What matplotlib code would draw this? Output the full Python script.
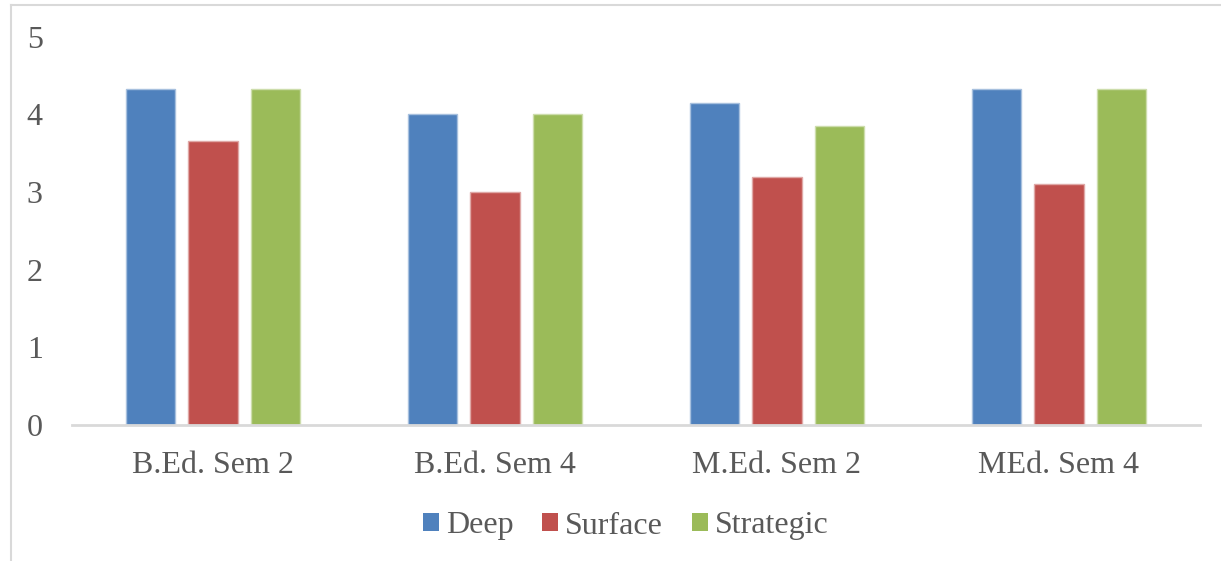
import numpy as np
import matplotlib.pyplot as plt
from matplotlib.patches import Patch
from matplotlib.lines import Line2D

groups = ["B.Ed. Sem 2", "B.Ed. Sem 4", "M.Ed. Sem 2", "MEd. Sem 4"]
series = ["Deep", "Surface", "Strategic"]
deep = [4.33, 4.00, 4.14, 4.33]
surface = [3.66, 3.00, 3.19, 3.10]
strategic = [4.33, 4.00, 3.85, 4.33]

colors = ["#4F81BD", "#C0504D", "#9BBB59"]
edges = ["#A7C0DE", "#DFA8A6", "#CDDDAC"]
txt = "#595959"

plt.rcParams['font.family'] = ['Liberation Serif', 'DejaVu Serif']

W, H = 1221, 561
fig = plt.figure(figsize=(W / 100, H / 100), dpi=100)

# frame around the chart area
fig.add_artist(Line2D([11 / W, 11 / W], [0, 1 - 5 / H], color="#D9D9D9", lw=1.5))
fig.add_artist(Line2D([11 / W, 1], [1 - 5 / H, 1 - 5 / H], color="#D9D9D9", lw=1.5))

ax = fig.add_axes([72 / W, 1 - 425 / H, (1200 - 72) / W, (425 - 36.5) / H])

x = np.arange(len(groups))
bw = 0.177
step = 0.2216
for i, (vals, c, e) in enumerate(zip([deep, surface, strategic], colors, edges)):
    ax.bar(x + (i - 1) * step, vals, width=bw, color=c, edgecolor=e, linewidth=1)

ax.set_xlim(-0.5, len(groups) - 0.5)
ax.set_ylim(0, 5)
ax.set_yticks(range(6))
ax.set_xticks(x)
ax.set_xticklabels(groups)
ax.tick_params(axis='both', length=0, labelsize=23, labelcolor=txt)
ax.tick_params(axis='x', pad=19)
ax.tick_params(axis='y', pad=21)
for s in ["top", "right", "left"]:
    ax.spines[s].set_visible(False)
ax.spines["bottom"].set_color("#D9D9D9")
ax.spines["bottom"].set_linewidth(2)

handles = [Patch(facecolor=c, edgecolor='none') for c in colors]
leg = fig.legend(handles, series, loc="center", bbox_to_anchor=(625.5 / W, 1 - 526 / H),
                 ncol=3, frameon=False, fontsize=23, handlelength=0.5, handleheight=0.5,
                 handletextpad=0.22, columnspacing=0.9)
for t in leg.get_texts():
    t.set_color(txt)

fig.savefig("out.png", dpi=100)
